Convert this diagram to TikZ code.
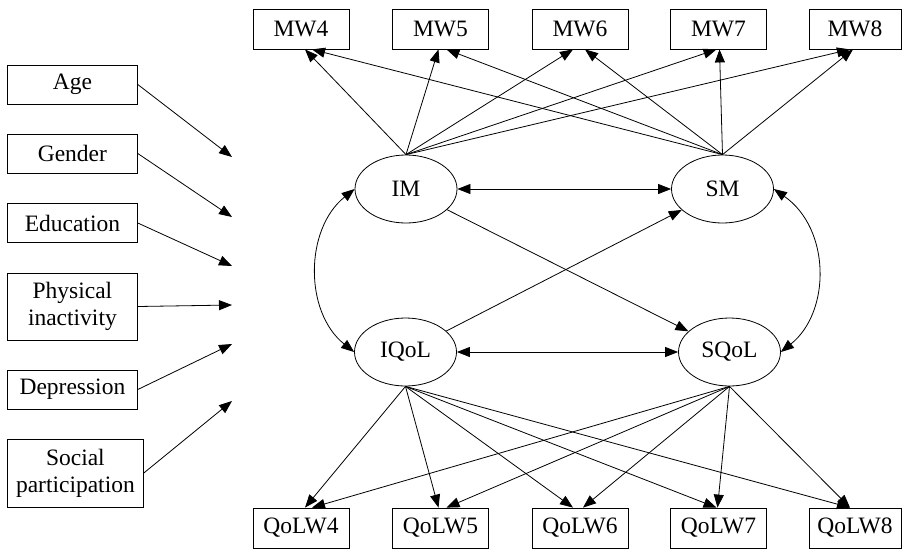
\documentclass[tikz,border=0pt]{standalone}
\usepackage{fontspec}
\setmainfont{Liberation Serif}
\usetikzlibrary{arrows.meta,shapes.geometric}
\begin{document}
\begin{tikzpicture}[x=1pt,y=-1pt,
  font=\fontsize{23.5}{27}\selectfont,
  line width=0.8pt,
  >={Triangle[length=13pt,width=10pt]},
  ibox/.style={draw, minimum width=96pt, minimum height=40pt, inner sep=2pt},
  lbox/.style={draw, anchor=west, minimum width=130pt, minimum height=39pt, align=center, inner sep=2pt},
  lat/.style={draw, ellipse, minimum width=102pt, minimum height=68pt, inner sep=0pt}]
\useasboundingbox (0,0) rectangle (906,550);

% left boxes
\node[lbox] (age) at (7,84.5) {Age};
\node[lbox] (gen) at (7,153.5) {Gender};
\node[lbox] (edu) at (7,223) {Education};
\node[lbox, minimum height=67pt] (phy) at (7,306.5) {Physical\\inactivity};
\node[lbox] (dep) at (7,389.5) {Depression};
\node[lbox, minimum width=136pt, minimum height=68pt] (soc) at (7,473) {Social\\participation};

\coordinate (tA) at (232,157);
\coordinate (tG) at (232,217);
\coordinate (tE) at (232,266);
\coordinate (tP) at (232,305);
\coordinate (tD) at (232,344);
\coordinate (tS) at (232,401);

\draw[->] (age.east) -- (tA);
\draw[->] (gen.east) -- (tG);
\draw[->] (edu.east) -- (tE);
\draw[->] (phy.east) -- (tP);
\draw[->] (dep.east) -- (tD);
\draw[->] (soc.east) -- (tS);

% indicator boxes
\node[ibox] (mw4) at (301,29) {MW4};
\node[ibox] (mw5) at (440.5,29) {MW5};
\node[ibox] (mw6) at (580,29) {MW6};
\node[ibox] (mw7) at (718.5,29) {MW7};
\node[ibox, minimum width=92pt] (mw8) at (855,29) {MW8};
\node[ibox] (q4) at (301,528) {QoLW4};
\node[ibox] (q5) at (440.5,528) {QoLW5};
\node[ibox] (q6) at (580,528) {QoLW6};
\node[ibox] (q7) at (718.5,528) {QoLW7};
\node[ibox, minimum width=92pt] (q8) at (855,528) {QoLW8};

% latent
\node[lat] (IM) at (406,189) {IM};
\node[lat] (SM) at (722.5,189) {SM};
\node[lat] (IQ) at (405.5,352) {IQoL};
\node[lat] (SQ) at (729.5,352) {SQoL};

% loadings
\draw[->] (IM.north) -- ([xshift=4pt]mw4.south);
\draw[->] (IM.north) -- ([xshift=-2pt]mw5.south);
\draw[->] (IM.north) -- ([xshift=-7pt]mw6.south);
\draw[->] (IM.north) -- ([xshift=-2pt]mw7.south);
\draw[->] (IM.north) -- ([xshift=-5pt]mw8.south);
\draw[->] (SM.north) -- ([xshift=11pt]mw4.south);
\draw[->] (SM.north) -- ([xshift=6pt]mw5.south);
\draw[->] (SM.north) -- ([xshift=5pt]mw6.south);
\draw[->] (SM.north) -- ([xshift=1pt]mw7.south);
\draw[->] (SM.north) -- ([xshift=-2pt]mw8.south);

\draw[->] (IQ.south) -- ([xshift=4pt]q4.north);
\draw[->] (IQ.south) -- ([xshift=-2pt]q5.north);
\draw[->] (IQ.south) -- ([xshift=-7pt]q6.north);
\draw[->] (IQ.south) -- ([xshift=-2pt]q7.north);
\draw[->] (IQ.south) -- ([xshift=-5pt]q8.north);
\draw[->] (SQ.south) -- ([xshift=11pt]q4.north);
\draw[->] (SQ.south) -- ([xshift=6pt]q5.north);
\draw[->] (SQ.south) -- ([xshift=3pt]q6.north);
\draw[->] (SQ.south) -- ([xshift=-1pt]q7.north);
\draw[->] (SQ.south) -- ([xshift=-5pt]q8.north);

% structural
\draw[<->] (IM) -- (SM);
\draw[<->] (IQ) -- (SQ);
\draw[->] (IM) -- (SQ);
\draw[->] (IQ) -- (SM);
\draw[<->] (IM.west) .. controls +(-50,40) and +(-50,-40) .. (IQ.west);
\draw[<->] (SM.east) .. controls +(57,40) and +(50,-40) .. (SQ.east);
\end{tikzpicture}
\end{document}
